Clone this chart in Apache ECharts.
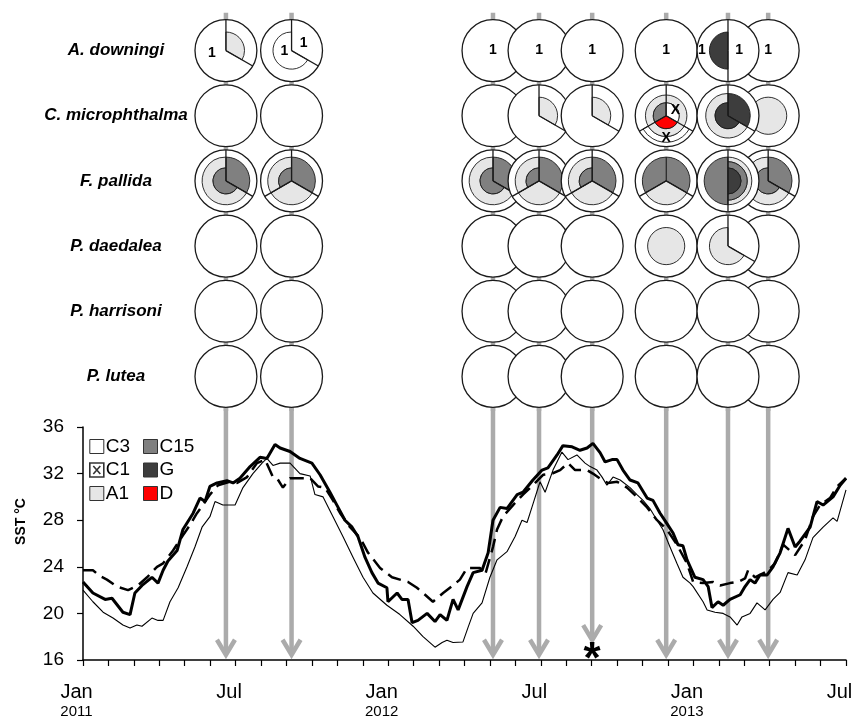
<!DOCTYPE html>
<html><head><meta charset="utf-8">
<script src="https://cdn.jsdelivr.net/npm/echarts@6/dist/echarts.min.js"></script>
<style>html,body{margin:0;padding:0;background:#fff}#c{width:855px;height:718px}</style>
</head><body><div id="c"></div>
<script>
// ---------- data ----------
const species = ['A. downingi','C. microphthalma','F. pallida','P. daedalea','P. harrisoni','P. lutea'];
// sampling times, months since Jan 2011
const sampleMonths = [5.62, 8.20, 16.12, 17.93, 20.02, 22.93, 25.36, 26.94];
const drawOrder = [0, 1, 2, 3, 4, 5, 7, 6];
// SST value where each arrow ends
const arrowTipSST = [16.45, 16.45, 16.45, 16.45, 17.7, 16.45, 16.45, 16.45];
const starredSample = 4;
const symbiontTypes = ['C3', 'C1', 'A1', 'C15', 'G', 'D'];
const monthLabels = ['Jan', 'Jul', 'Jan', 'Jul', 'Jan', 'Jul'];
const yearLabels = ['2011', '', '2012', '', '2013', ''];

// [sample, species, fromClockDeg, toClockDeg, innerFrac, outerFrac, type]
const circleLayers = [
  [0,0, 0,120, 0,0.6,'A1'],
  [1,0, 120,360, 0,0.6,'C3'],
  [6,0, 180,360, 0,0.6,'G'],
  [3,1, 0,120, 0,0.6,'A1'],
  [4,1, 0,120, 0,0.6,'A1'],
  [5,1, 120,240, 0.67,0.86,'C1'],
  [5,1, 0,360, 0.42,0.67,'A1'],
  [5,1, 240,360, 0,0.42,'C15'],
  [5,1, 120,240, 0,0.42,'D'],
  [5,1, 0,120, 0,0.42,'C1'],
  [6,1, 0,120, 0,0.72,'G'],
  [6,1, 120,360, 0.42,0.72,'A1'],
  [6,1, 120,360, 0,0.42,'G'],
  [7,1, 0,360, 0,0.6,'A1'],
  [0,2, 0,120, 0,0.77,'C15'], [0,2, 120,360, 0.42,0.77,'A1'], [0,2, 120,360, 0,0.42,'C15'],
  [1,2, 0,120, 0,0.77,'C15'], [1,2, 120,240, 0,0.77,'A1'], [1,2, 240,360, 0.42,0.77,'A1'], [1,2, 240,360, 0,0.42,'C15'],
  [2,2, 0,120, 0,0.77,'C15'], [2,2, 120,360, 0.42,0.77,'A1'], [2,2, 120,360, 0,0.42,'C15'],
  [3,2, 0,120, 0,0.77,'C15'], [3,2, 120,240, 0,0.77,'A1'], [3,2, 240,360, 0.42,0.77,'A1'], [3,2, 240,360, 0,0.42,'C15'],
  [4,2, 0,120, 0,0.77,'C15'], [4,2, 120,240, 0,0.77,'A1'], [4,2, 240,360, 0.42,0.77,'A1'], [4,2, 240,360, 0,0.42,'C15'],
  [5,2, 0,120, 0,0.77,'C15'], [5,2, 240,360, 0,0.77,'C15'], [5,2, 120,240, 0,0.77,'A1'],
  [6,2, 180,360, 0,0.77,'C15'], [6,2, 0,180, 0.62,0.77,'A1'], [6,2, 0,180, 0.42,0.62,'C15'], [6,2, 0,180, 0,0.42,'G'],
  [7,2, 0,120, 0,0.77,'C15'], [7,2, 120,360, 0.42,0.77,'A1'], [7,2, 120,360, 0,0.42,'C15'],
  [5,3, 0,360, 0,0.6,'A1'],
  [6,3, 120,360, 0,0.6,'A1']
];
// [sample, species, clockDeg]
const circleDividers = [
  [0,0,0],[0,0,120],[1,0,0],[1,0,120],[6,0,0],[6,0,180],
  [3,1,0],[3,1,120],[4,1,0],[4,1,120],[5,1,0],[5,1,120],[5,1,240],[6,1,0],[6,1,120],
  [0,2,0],[0,2,120],[1,2,0],[1,2,120],[1,2,240],[2,2,0],[2,2,120],
  [3,2,0],[3,2,120],[3,2,240],[4,2,0],[4,2,120],[4,2,240],[5,2,120],[5,2,240],
  [6,2,0],[6,2,180],[7,2,0],[7,2,120],
  [6,3,0],[6,3,120]
];
// [sample, species, text, clockDeg, radiusFrac]
const circleMarks = [
  [0,0,'1',258,0.46],[1,0,'1',262,0.23],[1,0,'1',60,0.45],
  [2,0,'1',0,0],[3,0,'1',0,0],[4,0,'1',0,0],[5,0,'1',0,0],
  [6,0,'1',270,0.84],[6,0,'1',90,0.36],[7,0,'1',0,0],
  [5,1,'X',60,0.34],[5,1,'X',180,0.72]
];

// SST series: [months since Jan 2011, °C]
const sstThick = [[0,22.7],[0.39,21.75],[0.87,21.2],[1.14,21.3],[1.57,20.1],[1.85,19.9],[2.04,21.75],[2.32,22.4],[2.71,23.1],[2.95,22.6],[3.15,23.7],[3.34,24.5],[3.70,25.4],[3.93,27.2],[4.33,28.6],[4.60,29.9],[4.80,29.6],[4.99,30.9],[5.27,31.2],[5.66,31.4],[5.90,31.2],[6.17,31.6],[6.57,32.6],[6.96,33.4],[7.23,33.3],[7.55,34.5],[7.75,34.2],[8.14,33.9],[8.53,33.3],[9.00,32.9],[9.32,31.9],[9.71,30.4],[10.03,29.1],[10.30,28.0],[10.58,27.4],[10.81,26.6],[11.09,24.8],[11.36,23.5],[11.60,22.6],[11.95,22.2],[11.99,21.0],[12.35,21.75],[12.54,21.2],[12.78,21.2],[12.94,19.2],[13.17,19.4],[13.53,20.0],[13.84,19.3],[14.04,19.9],[14.31,19.4],[14.55,21.2],[14.75,20.3],[15.10,22.3],[15.34,23.5],[15.69,23.7],[15.93,25.2],[16.12,28.0],[16.40,29.1],[16.67,29.0],[17.07,30.2],[17.30,30.4],[17.69,31.45],[18.05,32.3],[18.28,32.5],[18.64,33.6],[18.87,34.4],[19.23,34.3],[19.54,34.0],[19.82,34.2],[20.05,34.6],[20.33,33.8],[20.53,33.0],[20.80,33.2],[21.00,33.2],[21.23,32.3],[21.51,31.45],[21.82,31.2],[22.18,29.9],[22.41,29.7],[22.69,28.6],[22.96,27.7],[23.20,26.9],[23.39,25.9],[23.59,25.8],[23.75,24.6],[24.06,23.1],[24.38,22.9],[24.58,22.3],[24.73,20.5],[24.97,21.0],[25.17,20.7],[25.44,21.2],[25.84,21.6],[26.03,22.3],[26.23,22.9],[26.42,22.6],[26.62,23.3],[26.90,23.3],[27.13,24.0],[27.41,25.2],[27.72,27.3],[28.00,25.7],[28.19,26.2],[28.59,27.4],[28.86,29.6],[29.10,29.3],[29.49,30.0],[29.77,31.0],[30,31.6]];
const sstThin = [[0,22.0],[0.39,21.0],[0.79,20.1],[1.18,19.6],[1.57,19.0],[1.85,18.75],[2.12,19.0],[2.32,18.9],[2.71,19.6],[2.95,19.4],[3.15,19.4],[3.42,21.0],[3.74,22.2],[4.09,24.0],[4.40,25.7],[4.68,27.4],[4.99,28.3],[5.19,29.6],[5.50,29.3],[5.98,29.3],[6.29,30.8],[6.68,32.0],[7.04,32.9],[7.23,33.3],[7.47,32.7],[7.75,32.9],[8.14,32.9],[8.53,32.0],[8.93,31.8],[9.12,30.2],[9.44,30.0],[9.83,28.3],[10.22,26.6],[10.62,24.8],[11.01,23.1],[11.40,21.75],[11.95,20.7],[12.46,19.9],[12.98,18.9],[13.37,18.0],[13.84,17.1],[14.12,17.5],[14.31,17.7],[14.55,17.5],[14.94,17.55],[15.14,18.8],[15.34,20.0],[15.69,20.9],[16.00,23.1],[16.28,24.6],[16.67,25.3],[16.99,26.6],[17.26,28.0],[17.46,27.8],[17.65,29.1],[17.97,31.3],[18.17,30.4],[18.48,32.3],[18.83,33.85],[19.07,33.2],[19.42,33.6],[19.74,32.9],[19.94,32.6],[20.21,32.3],[20.41,31.7],[20.60,31.0],[20.84,31.7],[21.12,31.45],[21.51,30.8],[21.78,30.2],[22.02,29.7],[22.29,29.0],[22.57,28.0],[22.80,27.2],[23.08,25.7],[23.35,24.3],[23.59,23.1],[23.87,22.6],[23.99,22.3],[24.38,21.0],[24.54,20.3],[24.85,20.1],[25.17,20.0],[25.44,19.7],[25.72,19.0],[25.91,19.7],[26.23,20.0],[26.50,20.9],[26.82,20.3],[27.13,21.2],[27.41,21.8],[27.72,23.5],[28.08,23.3],[28.39,24.6],[28.70,26.5],[29.10,27.4],[29.49,28.2],[29.65,27.9],[30,30.6]];
const sstDashed = [[0,23.7],[0.39,23.7],[0.67,23.2],[0.94,22.9],[1.34,22.3],[1.77,22.0],[2.16,22.4],[2.52,23.1],[2.91,24.0],[3.15,24.3],[3.54,25.4],[3.93,26.7],[4.21,27.6],[4.48,28.6],[4.72,29.3],[4.99,30.2],[5.31,31.0],[5.78,31.3],[6.06,31.2],[6.45,31.7],[6.84,32.9],[7.16,33.2],[7.47,31.7],[7.63,31.6],[7.86,30.8],[8.14,31.6],[8.53,31.6],[8.93,31.6],[9.24,30.9],[9.52,30.8],[9.83,29.7],[10.11,28.6],[10.50,27.4],[10.89,26.5],[11.21,25.2],[11.68,23.9],[12.15,23.1],[12.78,22.7],[13.13,22.2],[13.45,21.6],[13.76,21.0],[14.16,21.75],[14.55,22.4],[14.82,22.9],[15.10,23.9],[15.61,23.9],[15.81,23.3],[16.12,25.7],[16.28,27.2],[16.51,28.3],[16.91,29.3],[17.30,30.2],[17.69,31.0],[18.09,31.9],[18.44,32.0],[18.76,32.3],[19.07,32.9],[19.35,32.3],[19.82,32.3],[20.05,32.0],[20.41,31.45],[20.64,31.2],[21.00,31.3],[21.39,30.8],[21.78,30.0],[22.18,29.1],[22.57,28.0],[22.96,27.2],[23.35,25.9],[23.75,24.3],[23.99,22.7],[24.38,22.6],[24.77,22.7],[25.05,22.4],[25.44,22.6],[25.76,22.7],[26.03,23.0],[26.15,23.7],[26.42,23.1],[26.90,23.6],[27.21,24.3],[27.53,25.9],[28.00,25.0],[28.39,26.3],[28.70,28.3],[28.98,29.3],[29.37,29.9],[29.65,30.9],[30,31.6]];

// ---------- style ----------
const FONT = '"Liberation Sans", Arial, sans-serif';
const typeColors = {C3:'#ffffff', C1:'#ffffff', A1:'#e6e6e6', C15:'#808080', G:'#3d3d3d', D:'#ff0000'};
const INK = '#1a1a1a';
const ARROW = '#ababab';
const clockRad = a => (a - 90) * Math.PI / 180;

function renderCircle(params, api) {
  const m = api.value(0), row = api.value(1), col = api.value(2);
  const c = api.coord([m, row]);
  const R = api.size([0, 1])[1] * 0.475;
  const kids = [{type:'circle', shape:{cx:c[0], cy:c[1], r:R}, style:{fill:'#fff', stroke:INK, lineWidth:1.3}}];
  circleLayers.forEach(l => {
    if (l[0] !== col || l[1] !== row) return;
    kids.push({type:'sector', shape:{cx:c[0], cy:c[1], r0:l[4]*R, r:l[5]*R,
      startAngle:clockRad(l[2]), endAngle:clockRad(l[3]), clockwise:true},
      style:{fill:typeColors[l[6]], stroke:INK, lineWidth:0.9}});
  });
  circleDividers.forEach(d => {
    if (d[0] !== col || d[1] !== row) return;
    const a = clockRad(d[2]);
    kids.push({type:'line', shape:{x1:c[0], y1:c[1], x2:c[0] + R*Math.cos(a), y2:c[1] + R*Math.sin(a)},
      style:{stroke:INK, lineWidth:1.3}});
  });
  circleMarks.forEach(t => {
    if (t[0] !== col || t[1] !== row) return;
    const a = clockRad(t[3]);
    const x = c[0] + t[4]*R*Math.cos(a), y = c[1] + t[4]*R*Math.sin(a);
    kids.push({type:'text', x:x, y:y, style:{text:t[2], fill:'#000', font:'bold 14px ' + FONT,
      align:'center', verticalAlign:'middle', textAlign:'center', textVerticalAlign:'middle'}});
  });
  return {type:'group', children:kids};
}

function renderArrowTop(params, api) {
  const m = api.value(0);
  const band = api.size([0, 1])[1];
  const R = band * 0.475;
  const top = api.coord([m, 0]);
  const bot = api.coord([m, species.length - 1]);
  return {type:'line', shape:{x1:top[0], y1:top[1] - R - 7, x2:bot[0], y2:bot[1] + band/2 + 2},
    style:{stroke:ARROW, lineWidth:4.5}};
}

function renderArrowBottom(params, api) {
  const m = api.value(0), tipV = api.value(1), idx = api.value(2);
  const tip = api.coord([m, tipV]);
  const top = api.coord([m, 36]);
  const kids = [
    {type:'line', shape:{x1:tip[0], y1:top[1] - 22, x2:tip[0], y2:tip[1] - 2}, style:{stroke:ARROW, lineWidth:4.5}},
    {type:'polyline', shape:{points:[[tip[0]-9, tip[1]-15],[tip[0], tip[1]],[tip[0]+9, tip[1]-15]]},
      style:{stroke:ARROW, lineWidth:4.5, fill:null, lineJoin:'miter'}}
  ];
  if (idx === starredSample) {
    const s = api.coord([m, 15.95]);
    kids.push({type:'text', x:s[0], y:s[1], style:{text:'*', fill:'#000', font:'bold 44px ' + FONT,
      align:'center', verticalAlign:'middle', textAlign:'center', textVerticalAlign:'middle'}});
  }
  return {type:'group', children:kids};
}

const circleData = [];
drawOrder.forEach(col => species.forEach((s, row) => circleData.push([sampleMonths[col], row, col])));

const legendIcon = {
  C1: 'path://M0,0L14,0L14,14L0,14Z M3.5,3L10.5,11 M10.5,3L3.5,11'
};
function legendData(names) {
  return names.map(n => ({
    name: n,
    icon: legendIcon[n] || 'rect',
    itemStyle: {color: typeColors[n], borderColor: '#333', borderWidth: n === 'C1' ? 1.6 : 1}
  }));
}

const option = {
  animation: false,
  backgroundColor: '#fff',
  grid: [
    {left: 83, right: 9, top: 427, bottom: 58, outerBoundsMode: 'none', containLabel: false},
    {left: 83, right: 9, top: 18, height: 391, outerBoundsMode: 'none', containLabel: false}
  ],
  legend: [
    {left: 84, top: 432, orient: 'vertical', itemWidth: 14, itemHeight: 14, itemGap: 4.5, selectedMode: false,
      textStyle: {fontSize: 19, color: '#000', fontFamily: FONT, padding: [0,0,0,-3]}, data: legendData(['C3','C1','A1'])},
    {left: 138, top: 432, orient: 'vertical', itemWidth: 14, itemHeight: 14, itemGap: 4.5, selectedMode: false,
      textStyle: {fontSize: 19, color: '#000', fontFamily: FONT, padding: [0,0,0,-3]}, data: legendData(['C15','G','D'])}
  ],
  xAxis: [
    {gridIndex: 0, type: 'value', min: 0, max: 30, interval: 1,
      axisLine: {lineStyle: {color: '#000', width: 1.5}},
      axisTick: {length: 6, lineStyle: {color: '#000', width: 1.2}},
      splitLine: {show: false},
      axisLabel: {margin: 21, color: '#000', fontFamily: FONT, showMinLabel: true, showMaxLabel: true,
        padding: [0, 13, 0, 0],
        formatter: v => {
          if (v % 6 !== 0) return '';
          const i = v / 6;
          return '{m|' + monthLabels[i] + '}' + (yearLabels[i] ? '\n{y|' + yearLabels[i] + '}' : '');
        },
        rich: {m: {fontSize: 20, lineHeight: 22, fontFamily: FONT, color: '#000'},
               y: {fontSize: 15, lineHeight: 17, fontFamily: FONT, color: '#000'}}}},
    {gridIndex: 1, type: 'value', min: 0, max: 30, show: false}
  ],
  yAxis: [
    {gridIndex: 0, type: 'value', min: 16, max: 36, interval: 4,
      name: 'SST °C', nameLocation: 'middle', nameGap: 55,
      nameTextStyle: {fontSize: 14, fontWeight: 'bold', color: '#000', fontFamily: FONT, padding: [0,0,0,44]},
      axisLine: {show: true, lineStyle: {color: '#000', width: 1.5}},
      axisTick: {show: true, length: 6, lineStyle: {color: '#000', width: 1.2}},
      splitLine: {show: false},
      axisLabel: {margin: 19, fontSize: 19, color: '#000', fontFamily: FONT}},
    {gridIndex: 1, type: 'category', data: species, inverse: true, offset: -33,
      axisLine: {show: false}, axisTick: {show: false}, splitLine: {show: false},
      axisLabel: {margin: 0, align: 'center', fontSize: 17, fontWeight: 'bold', fontStyle: 'italic',
        color: '#000', fontFamily: FONT}}
  ],
  series: [
    {type: 'custom', name: 'arrowsTop', xAxisIndex: 1, yAxisIndex: 1, z: 1, silent: true,
      renderItem: renderArrowTop, data: sampleMonths.map((m, i) => [m, 0, i]), clip: false},
    {type: 'custom', name: 'arrowsBottom', xAxisIndex: 0, yAxisIndex: 0, z: 1, silent: true,
      renderItem: renderArrowBottom, data: sampleMonths.map((m, i) => [m, arrowTipSST[i], i]), clip: false},
    {type: 'custom', name: 'circles', xAxisIndex: 1, yAxisIndex: 1, z: 3, silent: true,
      renderItem: renderCircle, data: circleData, clip: false},
    {type: 'line', name: 'SST 1', xAxisIndex: 0, yAxisIndex: 0, z: 2, data: sstThick, showSymbol: false,
      lineStyle: {color: '#000', width: 3}},
    {type: 'line', name: 'SST 2', xAxisIndex: 0, yAxisIndex: 0, z: 2, data: sstThin, showSymbol: false,
      lineStyle: {color: '#000', width: 1.1}},
    {type: 'line', name: 'SST 3', xAxisIndex: 0, yAxisIndex: 0, z: 2, data: sstDashed, showSymbol: false,
      lineStyle: {color: '#000', width: 2.5, type: [14, 7]}}
  ].concat(symbiontTypes.map(t => ({type: 'custom', name: t, xAxisIndex: 0, yAxisIndex: 0, data: [],
      renderItem: () => null, itemStyle: {color: typeColors[t]}})))
};
const chart = echarts.init(document.getElementById('c'));
chart.setOption(option);
</script></body></html>
